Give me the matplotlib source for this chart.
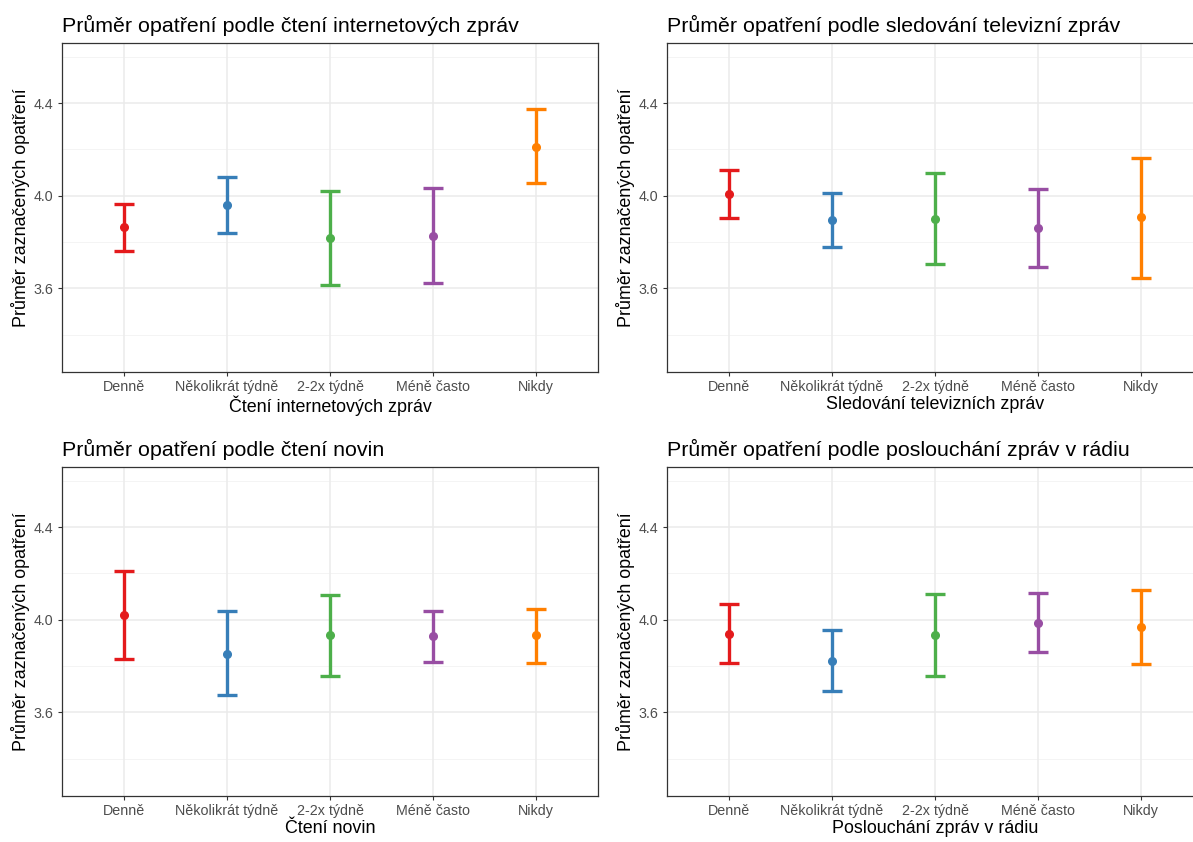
import numpy as np
import matplotlib.pyplot as plt

# Kategorie frekvence a barvy (Set1)
kategorie = ['Denně', 'Několikrát týdně', '2-2x týdně', 'Méně často', 'Nikdy']
barvy = ['#E41A1C', '#377EB8', '#4DAF4A', '#984EA3', '#FF7F00']

# Internetové zprávy
internet_prumer = [3.865, 3.960, 3.817, 3.827, 4.210]
internet_dolni = [3.761, 3.839, 3.616, 3.623, 4.054]
internet_horni = [3.964, 4.079, 4.022, 4.032, 4.373]

# Televizní zprávy
tv_prumer = [4.006, 3.896, 3.901, 3.859, 3.907]
tv_dolni = [3.905, 3.780, 3.707, 3.692, 3.646]
tv_horni = [4.111, 4.010, 4.099, 4.028, 4.163]

# Noviny
noviny_prumer = [4.022, 3.854, 3.932, 3.928, 3.932]
noviny_dolni = [3.830, 3.676, 3.759, 3.818, 3.813]
noviny_horni = [4.210, 4.037, 4.107, 4.037, 4.048]

# Rádio
radio_prumer = [3.939, 3.823, 3.932, 3.986, 3.970]
radio_dolni = [3.813, 3.693, 3.755, 3.860, 3.808]
radio_horni = [4.069, 3.954, 4.111, 4.115, 4.127]

plt.rcParams['font.family'] = ['Liberation Sans', 'DejaVu Sans']

W, H = 1193, 842
fig = plt.figure(figsize=(W / 100, H / 100), dpi=100)


def panel(x0, x1, ytop, ybot, prumer, dolni, horni, titulek, xlabel):
    ax = fig.add_axes([x0 / W, 1 - ybot / H, (x1 - x0) / W, (ybot - ytop) / H])
    x = np.arange(1, len(kategorie) + 1)
    ax.set_xlim(0.4, len(kategorie) + 0.6)
    ax.set_ylim(3.239, 4.659)

    # mřížka
    for v in [3.4, 3.8, 4.2, 4.6]:
        ax.axhline(v, color='#F2F2F2', lw=0.6, zorder=0)
    for v in [3.6, 4.0, 4.4]:
        ax.axhline(v, color='#EBEBEB', lw=1.1, zorder=0)
    for xi in x:
        ax.axvline(xi, color='#EBEBEB', lw=1.1, zorder=0)

    for i in range(len(kategorie)):
        p = prumer[i]
        ax.errorbar(x[i], p, yerr=[[p - dolni[i]], [horni[i] - p]],
                    fmt='o', color=barvy[i], ms=5.5, elinewidth=2.4,
                    capsize=7.4, capthick=2.4, zorder=3)

    ax.set_xticks(x)
    ax.set_xticklabels(kategorie)
    ax.set_yticks([3.6, 4.0, 4.4])
    ax.set_yticklabels(['3.6', '4.0', '4.4'])
    ax.tick_params(axis='both', colors='#333333', labelcolor='#4D4D4D',
                   labelsize=10.3, length=3, width=0.8, pad=3)
    for s in ax.spines.values():
        s.set_color('#333333')
        s.set_linewidth(0.9)
    ax.set_xlabel(xlabel, fontsize=12.9, color='black', labelpad=1)
    ax.set_ylabel('Průměr zaznačených opatření', fontsize=12.9, color='black', labelpad=3)
    ax.set_title(titulek, loc='left', fontsize=15.4, color='black', pad=8)
    return ax


panel(62, 598, 43, 372, internet_prumer, internet_dolni, internet_horni,
      'Průměr opatření podle čtení internetových zpráv', 'Čtení internetových zpráv')
panel(667, 1203, 43, 372, tv_prumer, tv_dolni, tv_horni,
      'Průměr opatření podle sledování televizní zpráv', 'Sledování televizních zpráv')
panel(62, 598, 467, 796, noviny_prumer, noviny_dolni, noviny_horni,
      'Průměr opatření podle čtení novin', 'Čtení novin')
panel(667, 1203, 467, 796, radio_prumer, radio_dolni, radio_horni,
      'Průměr opatření podle poslouchání zpráv v rádiu', 'Poslouchání zpráv v rádiu')

fig.savefig('out.png', dpi=100, facecolor='white')
